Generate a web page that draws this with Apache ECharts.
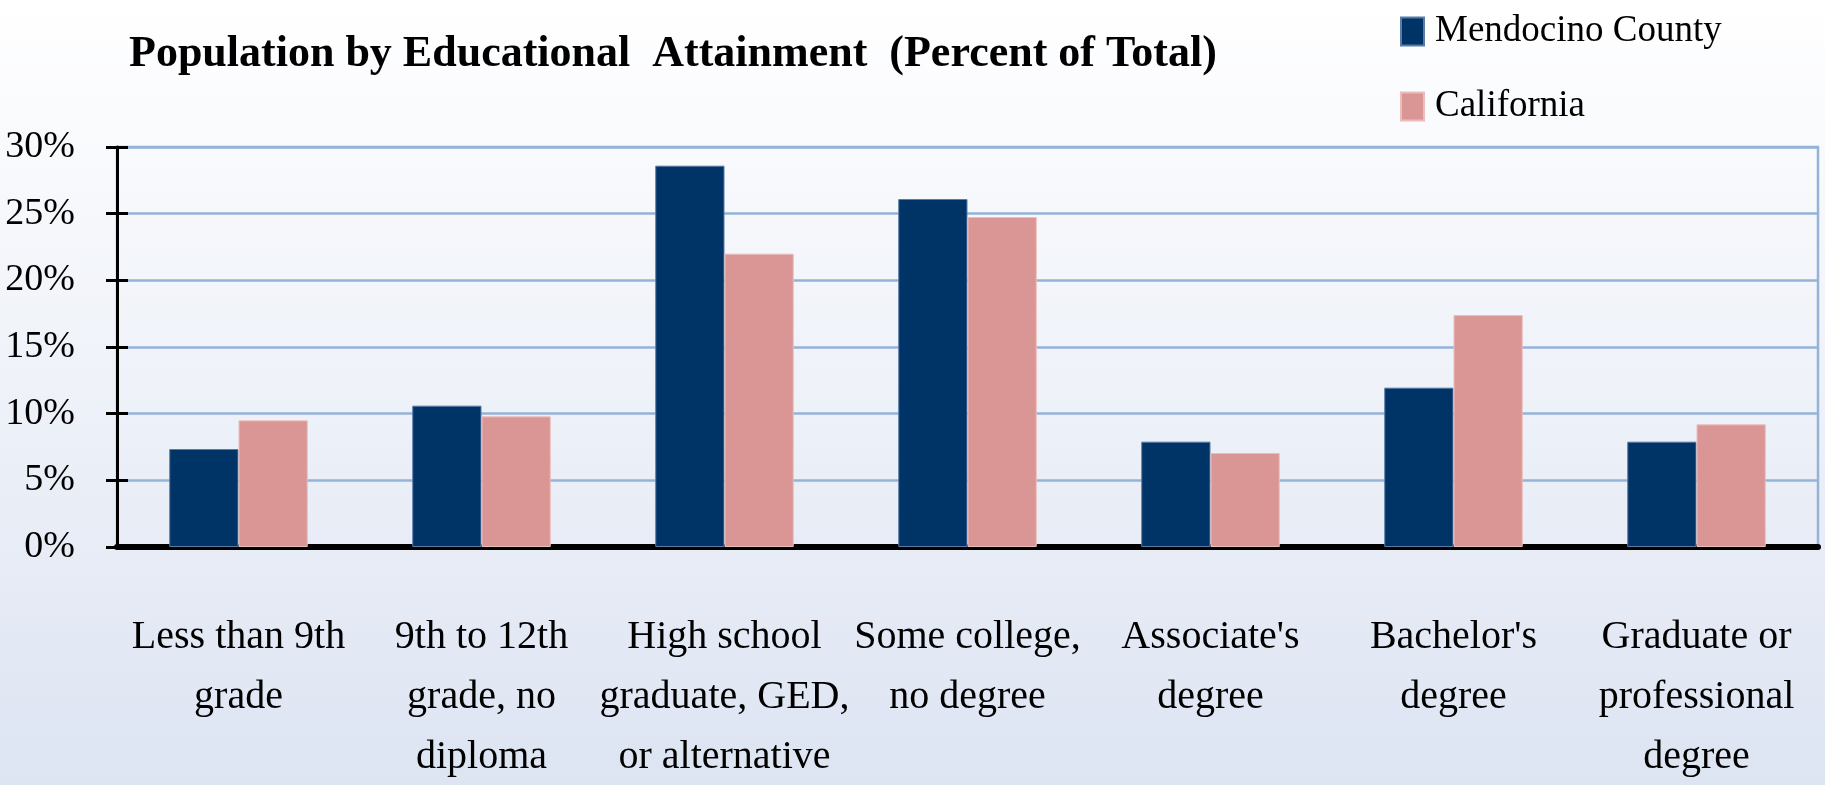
<!DOCTYPE html>
<html>
<head>
<meta charset="utf-8">
<script src="https://cdn.jsdelivr.net/npm/echarts@6/dist/echarts.min.js"></script>
<style>
  html, body { margin: 0; padding: 0; }
  #chart { width: 1825px; height: 785px; }
</style>
</head>
<body>
<div id="chart"></div>
<script>
const titleText = 'Population by Educational  Attainment  (Percent of Total)';
const categories = [
  'Less than 9th\ngrade',
  '9th to 12th\ngrade, no\ndiploma',
  'High school\ngraduate, GED,\nor alternative',
  'Some college,\nno degree',
  "Associate's\ndegree",
  "Bachelor's\ndegree",
  'Graduate or\nprofessional\ndegree'
];
const seriesNames = ['Mendocino County', 'California'];
const mendocino = [7.35, 10.6, 28.6, 26.1, 7.9, 11.95, 7.9];
const california = [9.5, 9.8, 22.0, 24.75, 7.05, 17.4, 9.2];
const yMin = 0, yMax = 30, yStep = 5;

const serif = '"Liberation Serif", "Times New Roman", serif';
const chart = echarts.init(document.getElementById('chart'));
chart.setOption({
  animation: false,
  backgroundColor: {
    type: 'linear', x: 0, y: 0, x2: 0, y2: 1,
    colorStops: [{ offset: 0, color: '#ffffff' }, { offset: 1, color: '#dde4f2' }]
  },
  title: {
    text: titleText,
    left: 124, top: 28,
    textStyle: { fontFamily: serif, fontSize: 44, fontWeight: 'bold', color: '#000' }
  },
  legend: {
    data: seriesNames,
    orient: 'vertical',
    left: 1395, top: 8,
    itemWidth: 23, itemHeight: 28, itemGap: 38,
    icon: 'rect',
    textStyle: { fontFamily: serif, fontSize: 37, color: '#000', padding: [0, 0, 0, 6] }
  },
  grid: {
    left: 117, right: 7, top: 147, bottom: 238,
    outerBoundsMode: 'none', containLabel: false,
    show: true, borderColor: '#95b3d7', borderWidth: 2.5, backgroundColor: 'transparent'
  },
  xAxis: {
    type: 'category',
    data: categories,
    axisLine: { lineStyle: { color: '#000', width: 6 } },
    axisTick: { show: false },
    axisLabel: {
      interval: 0, fontFamily: serif, fontSize: 40, lineHeight: 60,
      color: '#000', margin: 60, hideOverlap: false
    }
  },
  yAxis: [{
    type: 'value', min: yMin, max: yMax, interval: yStep,
    axisLine: { show: true, lineStyle: { color: '#000', width: 3 } },
    axisTick: { show: true, length: 11, lineStyle: { color: '#000', width: 3 } },
    axisLabel: {
      formatter: v => v + '%', fontFamily: serif, fontSize: 38, color: '#000', margin: 42
    },
    splitLine: { show: true, lineStyle: { color: '#95b3d7', width: 2.5 } }
  }, {
    type: 'value', min: yMin, max: yMax, interval: yStep, position: 'left',
    axisLine: { show: false },
    axisTick: { show: true, inside: true, length: 11, lineStyle: { color: '#000', width: 3 } },
    axisLabel: { show: false },
    splitLine: { show: false }
  }],
  series: [{
    name: seriesNames[0], type: 'bar', data: mendocino,
    barGap: '0%', barCategoryGap: '43%',
    itemStyle: { color: '#003366', borderColor: '#5a7ba6', borderWidth: 1 }
  }, {
    name: seriesNames[1], type: 'bar', data: california,
    barGap: '0%', barCategoryGap: '43%',
    itemStyle: { color: '#d99694', borderColor: '#ebbebc', borderWidth: 1 }
  }]
});
</script>
</body>
</html>
